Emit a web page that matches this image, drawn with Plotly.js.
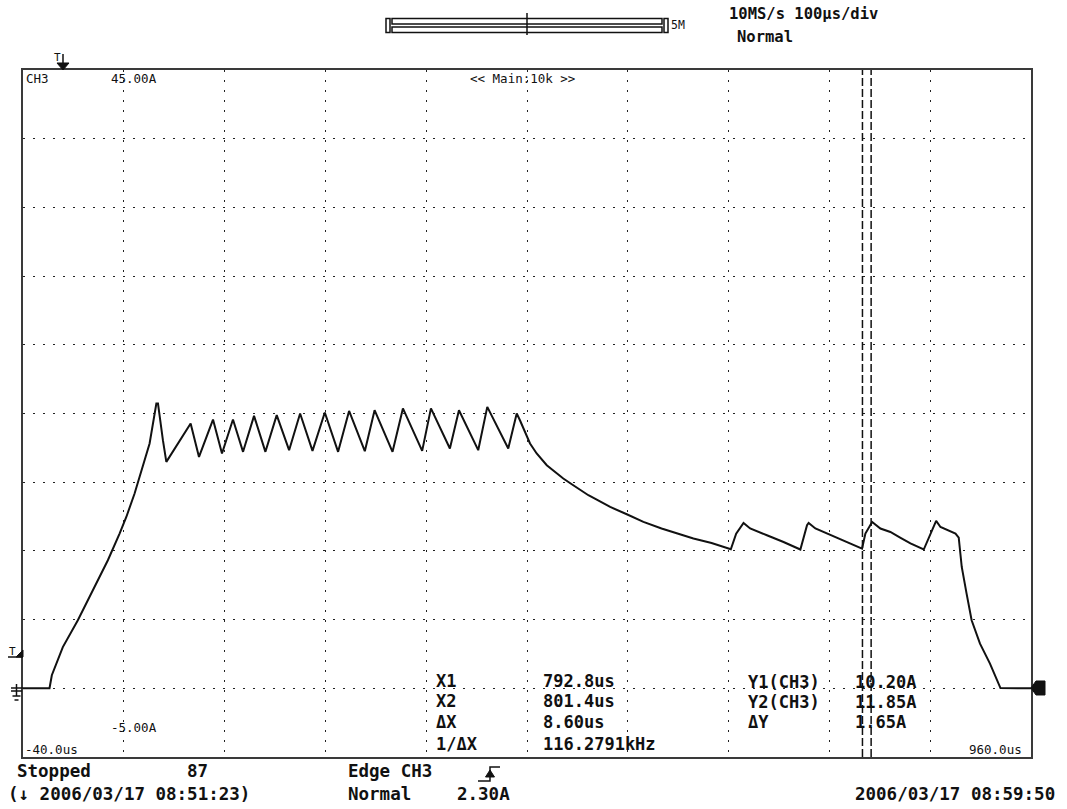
<!DOCTYPE html>
<html>
<head>
<meta charset="utf-8">
<script src="https://cdn.plot.ly/plotly-3.0.1.min.js"></script>
<style>
html,body{margin:0;padding:0;background:#fff;}
#chart{width:1067px;height:809px;}
</style>
</head>
<body>
<div id="chart"></div>
<script>
// ---- data ----
const timeUs = [-40, -13.7, -11.4, -0.5, 14.4, 29.3, 44.2, 55.8, 62.5, 70.7, 79.0, 85.6, 92.3, 93.9, 98.8, 102.2,
  126.3, 134.6, 148.5, 157.4, 168.3, 178.3, 189.2, 200.5, 211.7, 224.0, 234.9, 247.2, 259.4, 272.6,
  283.5, 299.1, 308.8, 326.6, 336.9, 356.0, 364.7, 383.5, 392.5, 411.6, 420.6, 441.4, 449.8,
  453.0, 463.0, 469.6, 479.6, 487.8, 496.0, 504.4, 512.6, 520.9, 529.2, 542.5, 559.0, 575.5, 593.5,
  608.7, 625.1, 643.1, 662.2,
  667.5, 674.8, 681.4, 688.1, 698.0, 714.5, 731.2, 737.8, 739.4, 746.1, 757.6, 764.2, 777.5, 792.4,
  795.7, 802.4, 810.6, 820.5, 830.2, 840.4, 853.6, 860.3, 865.9, 870.2, 885.1, 888.3,
  891.3, 896.1, 901.1, 909.4, 919.3, 929.7, 960];
const currentA = [0, 0, 0.95, 3.0, 4.95, 7.14, 9.32, 11.26, 12.47, 14.18, 16.11, 17.82, 20.73, 20.73, 18.06, 16.48,
  19.27, 16.84, 19.56, 17.09, 19.56, 17.21, 19.83, 17.21, 19.88, 17.33, 20.0, 17.28, 20.07, 17.21,
  20.19, 17.26, 20.24, 17.21, 20.37, 17.28, 20.37, 17.45, 20.24, 17.33, 20.48, 17.45, 20.0,
  19.51, 17.82, 17.09, 16.24, 15.75, 15.27, 14.85, 14.42, 14.05, 13.74, 13.20, 12.67, 12.11, 11.63,
  11.26, 10.90, 10.58, 10.12,
  11.26, 12.04, 11.63, 11.45, 11.14, 10.65, 10.10, 11.87, 12.04, 11.63, 11.26, 11.02, 10.65, 10.17,
  11.26, 12.11, 11.63, 11.38, 10.97, 10.54, 10.10, 11.26, 12.18, 11.74, 11.26, 10.97,
  8.83, 6.89, 4.95, 3.25, 1.80, 0.02, 0];
const cursorX = [792.8, 801.4];     // us
const cursorY = [10.20, 11.85];     // A
const xRange = [-40, 960];
const yRange = [-5, 45];
const xDiv = 100, yDiv = 5;
const triggerLevel = 2.30;

// ---- pixel helpers for decorations (plot area geometry) ----
const L = 23, T = 70, W = 1008, H = 687;
const px = x => (x - L) / W;
const py = y => (T + H - y) / H;
const path = pts => pts.map((p, i) => (i ? 'L' : 'M') + px(p[0]).toFixed(5) + ',' + py(p[1]).toFixed(5)).join(' ');

const mono = 'DejaVu Sans Mono, Liberation Mono, monospace';
function txt(x, y, text, size, bold, anchor) {
  return {xref: 'paper', yref: 'paper', x: px(x), y: py(y), text: bold ? '<b>' + text + '</b>' : text,
    showarrow: false, xanchor: anchor || 'left', yanchor: 'middle', borderpad: 0,
    font: {family: mono, size: size, color: '#111'}};
}

const dX = cursorX[1] - cursorX[0];
const dY = cursorY[1] - cursorY[0];
const invdX = 1000 / dX;

const annotations = [
  txt(25, 78, 'CH3', 12.5),
  txt(110, 78, '45.00A', 12.5),
  txt(469, 78, '&lt;&lt; Main:10k &gt;&gt;', 12.5),
  txt(110, 727, '-5.00A', 12.5),
  txt(24, 749, '-40.0us', 12.5),
  txt(968, 749, '960.0us', 12.5),
  txt(670, 25, '5M', 11.5),
  txt(53, 58, 'T', 11),
  txt(8, 651, 'T', 11),
  txt(435, 681, 'X1', 17, true),
  txt(542, 681, cursorX[0].toFixed(1) + 'us', 17, true),
  txt(435, 701, 'X2', 17, true),
  txt(542, 701, cursorX[1].toFixed(1) + 'us', 17, true),
  txt(435, 722, 'ΔX', 17, true),
  txt(542, 722, dX.toFixed(2) + 'us', 17, true),
  txt(435, 744, '1/ΔX', 17, true),
  txt(542, 744, invdX.toFixed(4) + 'kHz', 17, true),
  txt(747, 682, 'Y1(CH3)', 17, true),
  txt(854, 682, cursorY[0].toFixed(2) + 'A', 17, true),
  txt(747, 702, 'Y2(CH3)', 17, true),
  txt(854, 702, cursorY[1].toFixed(2) + 'A', 17, true),
  txt(747, 722, 'ΔY', 17, true),
  txt(854, 722, dY.toFixed(2) + 'A', 17, true),
  txt(16, 771, 'Stopped', 17.5, true),
  txt(186, 771, '87', 17.5, true),
  txt(7, 794, '(↓ 2006/03/17 08:51:23)', 17.5, true),
  txt(347, 771, 'Edge CH3', 17.5, true),
  txt(347, 794, 'Normal', 17.5, true),
  txt(456, 794, triggerLevel.toFixed(2) + 'A', 17.5, true),
  txt(854, 794, '2006/03/17 08:59:50', 17.5, true),
  txt(728, 14, '10MS/s 100µs/div', 15.5, true),
  txt(736, 37, 'Normal', 15.5, true)
];

const blk = {color: '#111', width: 1.5};
const shapes = [
  // cursors
  {type: 'line', xref: 'x', yref: 'paper', x0: cursorX[0], x1: cursorX[0], y0: 0, y1: 1, line: {color: '#111', width: 1.5, dash: '8px,3px'}},
  {type: 'line', xref: 'x', yref: 'paper', x0: cursorX[1], x1: cursorX[1], y0: 0, y1: 1, line: {color: '#111', width: 1.5, dash: '8px,3px'}},
  // memory bar at top
  {type: 'rect', xref: 'paper', yref: 'paper', x0: px(386), x1: px(390), y0: py(18.5), y1: py(32.5), line: blk},
  {type: 'rect', xref: 'paper', yref: 'paper', x0: px(392), x1: px(662), y0: py(18.5), y1: py(24), line: blk},
  {type: 'rect', xref: 'paper', yref: 'paper', x0: px(392), x1: px(662), y0: py(27), y1: py(32.5), line: blk},
  {type: 'rect', xref: 'paper', yref: 'paper', x0: px(664), x1: px(668), y0: py(18.5), y1: py(32.5), line: blk},
  {type: 'line', xref: 'paper', yref: 'paper', x0: px(527), x1: px(527), y0: py(13), y1: py(35), line: blk},
  // trigger position marker (top)
  {type: 'path', xref: 'paper', yref: 'paper', path: path([[63, 54], [63, 66]]), line: blk},
  {type: 'path', xref: 'paper', yref: 'paper', path: path([[57, 63], [69, 63], [63, 70]]) + ' Z', fillcolor: '#111', line: {color: '#111', width: 1}},
  // trigger level marker (left)
  {type: 'path', xref: 'paper', yref: 'paper', path: path([[8, 657], [23, 657]]), line: blk},
  {type: 'path', xref: 'paper', yref: 'paper', path: path([[16, 657], [23, 657], [23, 650]]) + ' Z', fillcolor: '#111', line: {color: '#111', width: 1}},
  // ground marker
  {type: 'path', xref: 'paper', yref: 'paper', path: path([[11, 688], [23, 688]]), line: blk},
  {type: 'path', xref: 'paper', yref: 'paper', path: path([[16.5, 684], [16.5, 696]]), line: blk},
  {type: 'path', xref: 'paper', yref: 'paper', path: path([[11, 691], [22, 691]]), line: blk},
  {type: 'path', xref: 'paper', yref: 'paper', path: path([[12.5, 696], [20.5, 696]]), line: blk},
  {type: 'path', xref: 'paper', yref: 'paper', path: path([[14.5, 700], [18.5, 700]]), line: blk},
  // channel ground marker (right)
  {type: 'path', xref: 'paper', yref: 'paper', path: path([[1031, 688], [1036, 681], [1045, 681], [1045, 695], [1036, 695]]) + ' Z', fillcolor: '#111', line: {color: '#111', width: 1}},
  // edge trigger symbol
  {type: 'path', xref: 'paper', yref: 'paper', path: path([[478, 781], [490, 781], [490, 767], [500, 767]]), line: blk},
  {type: 'path', xref: 'paper', yref: 'paper', path: path([[485.5, 777], [494.5, 777], [490, 770]]) + ' Z', fillcolor: '#111', line: {color: '#111', width: 1}}
];

const trace = {x: timeUs, y: currentA, type: 'scatter', mode: 'lines',
  line: {color: '#111', width: 2}, hoverinfo: 'skip'};

const axisCommon = {showline: true, mirror: true, linecolor: '#3a3a3a', linewidth: 2,
  showgrid: true, gridcolor: '#222', gridwidth: 1, griddash: '2px,8px',
  zeroline: false, showticklabels: false, ticks: '', fixedrange: true};

const layout = {
  width: 1067, height: 809,
  margin: {l: L, r: 1067 - L - W, t: T, b: 809 - T - H, pad: 0},
  paper_bgcolor: '#fff', plot_bgcolor: '#fff',
  showlegend: false,
  xaxis: Object.assign({}, axisCommon, {range: xRange, tick0: xRange[0], dtick: xDiv}),
  yaxis: Object.assign({}, axisCommon, {range: yRange, tick0: yRange[0], dtick: yDiv}),
  annotations: annotations,
  shapes: shapes
};

Plotly.newPlot('chart', [trace], layout, {displayModeBar: false, staticPlot: true});
</script>
</body>
</html>
